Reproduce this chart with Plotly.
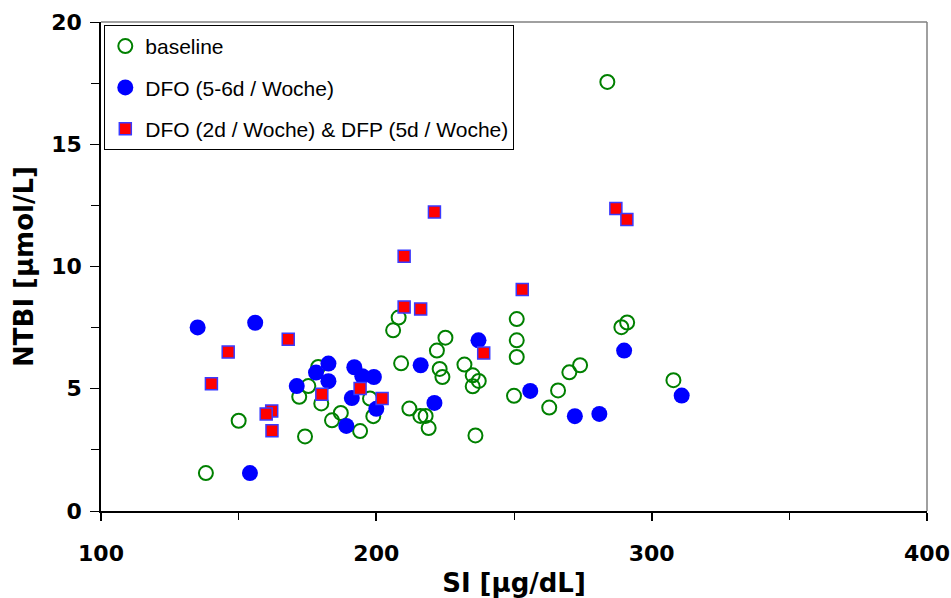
import plotly.graph_objects as go

# ---- data ----
baseline_si = [138.1, 150.0, 174.1, 172.0, 175.3, 178.9, 180.0, 208.1, 206.1, 209.0,
               225.1, 222.0, 223.0, 224.0, 232.0, 235.0, 237.2, 235.0, 251.0, 251.0,
               251.0, 250.0, 262.8, 212.0, 216.0, 217.9, 219.0, 236.0, 194.1, 198.9,
               197.7, 187.1, 183.9, 283.9, 270.1, 274.0, 266.0, 289.0, 291.1, 307.9]
baseline_ntbi = [1.55, 3.69, 3.05, 4.67, 5.11, 5.89, 4.40, 7.91, 7.39, 6.04,
                 7.09, 6.56, 5.81, 5.48, 5.99, 5.55, 5.32, 5.10, 7.85, 6.98,
                 6.30, 4.71, 4.23, 4.19, 3.89, 3.89, 3.39, 3.09, 3.27, 3.88,
                 4.60, 4.01, 3.71, 17.55, 5.67, 5.96, 4.93, 7.52, 7.71, 5.35]

dfo_si = [135.1, 156.0, 154.1, 171.1, 178.1, 182.6, 182.6, 192.0, 194.9, 199.1,
          191.1, 200.0, 189.1, 216.1, 221.1, 237.1, 255.9, 290.0, 272.1, 281.0, 310.9]
dfo_ntbi = [7.51, 7.70, 1.55, 5.11, 5.66, 6.03, 5.31, 5.88, 5.51, 5.48,
            4.62, 4.18, 3.48, 5.96, 4.42, 6.98, 4.91, 6.56, 3.88, 3.97, 4.72]

combo_si = [146.2, 140.1, 168.0, 162.0, 160.0, 162.1, 180.2, 221.1, 210.1, 210.1,
            216.1, 253.0, 239.0, 194.1, 202.1, 287.0, 291.0]
combo_ntbi = [6.50, 5.20, 7.02, 4.09, 3.97, 3.28, 4.78, 12.23, 10.42, 8.34,
              8.26, 9.06, 6.46, 5.01, 4.60, 12.37, 11.92]

names = ["baseline", "DFO (5-6d / Woche)", "DFO (2d / Woche) & DFP (5d / Woche)"]
x_ticks = [100, 200, 300, 400]
y_ticks = [0, 5, 10, 15, 20]

fig = go.Figure()
fig.add_trace(go.Scatter(
    x=baseline_si, y=baseline_ntbi, mode="markers", name=names[0], legendgroup="a",
    marker=dict(symbol="circle-open", size=14, color="#008000", line=dict(width=2, color="#008000"))))
fig.add_trace(go.Scatter(
    x=dfo_si, y=dfo_ntbi, mode="markers", name=names[1], legendgroup="b",
    marker=dict(symbol="circle", size=16, color="#0000FF", line=dict(width=0))))
fig.add_trace(go.Scatter(
    x=combo_si, y=combo_ntbi, mode="markers", name=names[2], legendgroup="c",
    marker=dict(symbol="square", size=12, color="#FF0000", line=dict(width=1.5, color="#3A3AFF"))))

tickfont = dict(family="DejaVu Sans", size=22, color="black", weight="bold")
titlefont = dict(family="DejaVu Sans", size=26, color="black", weight="bold")

fig.update_layout(
    width=951, height=598,
    margin=dict(l=101, r=24, t=22, b=87),
    paper_bgcolor="white", plot_bgcolor="white",
    showlegend=True,
    legend=dict(
        x=0.004, y=0.994, xanchor="left", yanchor="top",
        bgcolor="white", bordercolor="black", borderwidth=1,
        font=dict(family="Liberation Sans, Arial", size=21, color="black"),
        traceorder="grouped", tracegroupgap=11, itemsizing="trace", itemwidth=30,
    ),
    xaxis=dict(
        range=[100, 400], tickvals=x_ticks, ticktext=[str(v) for v in x_ticks],
        showgrid=False, zeroline=False, showline=True, linecolor="black", linewidth=1.5,
        ticks="outside", ticklen=8, tickwidth=1.5, tickcolor="black",
        minor=dict(dtick=50, tick0=100, ticks="outside", ticklen=7, tickwidth=1.2, tickcolor="black"),
        tickfont=tickfont, ticklabelstandoff=14, automargin=False,
        title=dict(text="SI [µg/dL]", font=titlefont, standoff=12),
    ),
    xaxis2=dict(
        overlaying="x", anchor="y", range=[100, 400], tickvals=x_ticks,
        showticklabels=False, showgrid=False, zeroline=False, showline=False,
        ticks="inside", ticklen=8, tickwidth=1.5, tickcolor="black", automargin=False,
    ),
    yaxis=dict(
        range=[0, 20], tickvals=y_ticks, ticktext=[str(v) for v in y_ticks],
        showgrid=False, zeroline=False, showline=True, linecolor="black", linewidth=1.5,
        ticks="outside", ticklen=9, tickwidth=1.2, tickcolor="black",
        minor=dict(dtick=2.5, tick0=0, ticks="outside", ticklen=8, tickwidth=1.2, tickcolor="black"),
        tickfont=tickfont, ticklabelstandoff=4, automargin=False,
        title=dict(text="NTBI [µmol/L]", font=titlefont, standoff=10),
    ),
    shapes=[
        dict(type="line", xref="paper", yref="paper", x0=0, x1=1, y0=1, y1=1,
             line=dict(color="#808080", width=1.5)),
        dict(type="line", xref="paper", yref="paper", x0=1, x1=1, y0=0, y1=1,
             line=dict(color="#808080", width=1.5)),
    ],
)

fig.write_html("out.html")
